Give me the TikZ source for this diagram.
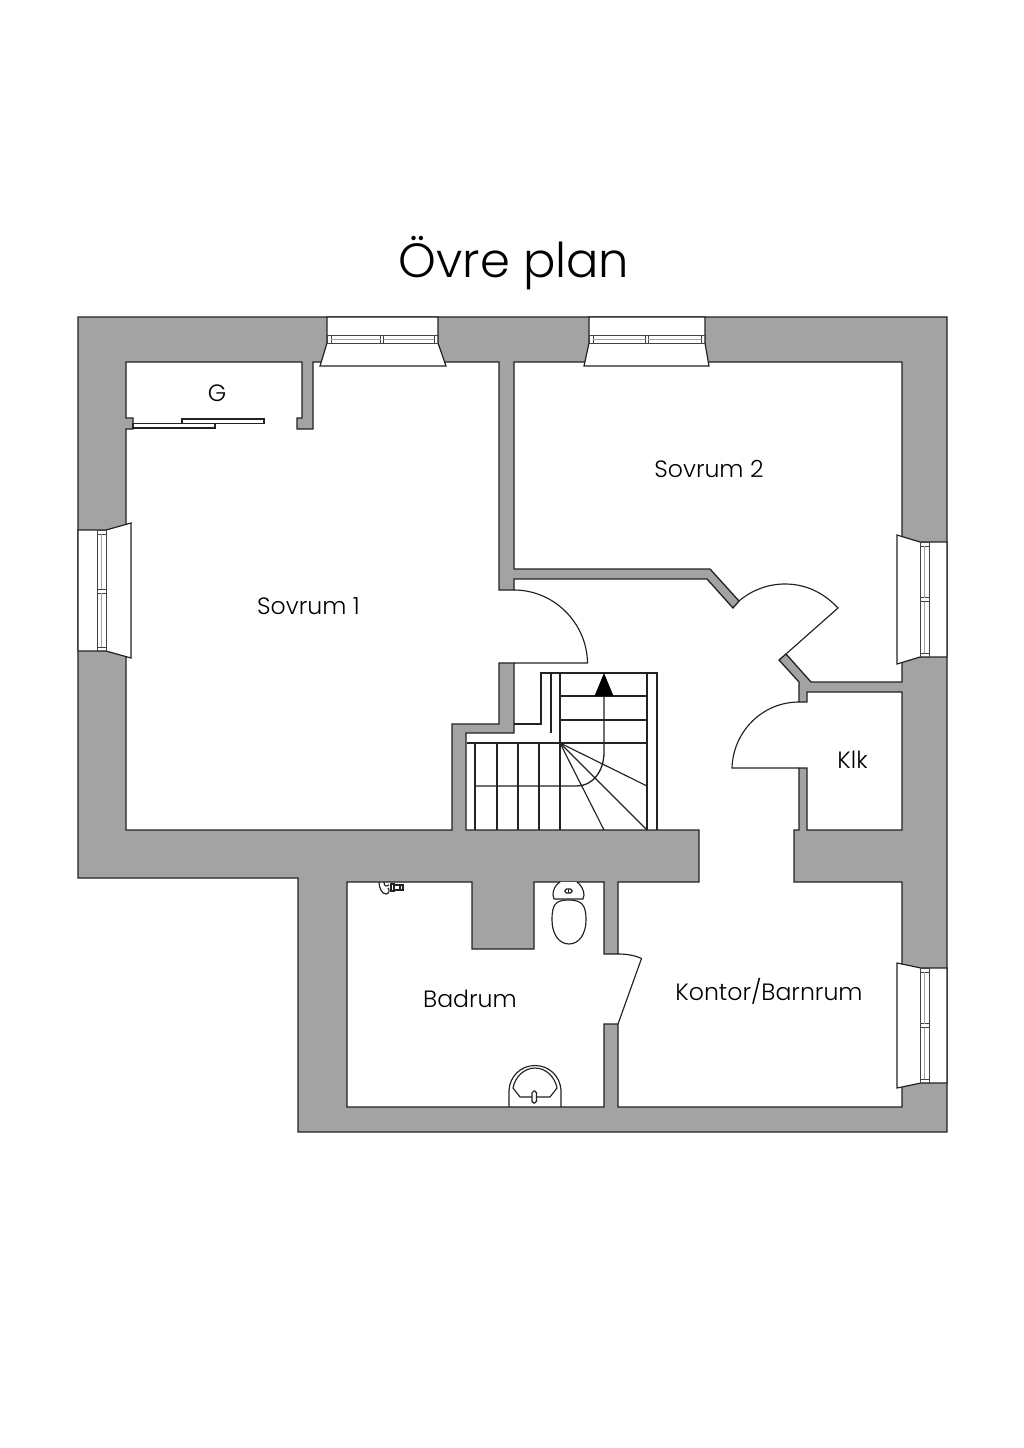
\documentclass[tikz,border=0pt]{standalone}
\usepackage{fontspec}
\setmainfont{Poppins}[UprightFont=* Light]
\definecolor{wallgray}{HTML}{A3A3A3}
\definecolor{planline}{HTML}{222222}
\tikzset{
  wall/.style={draw=planline,fill=wallgray,line width=1.3pt,even odd rule},
  planpart/.style={draw=planline,fill=white,line width=1.2pt},
  thin part/.style={draw=planline,line width=1.15pt},
  winframe/.style={draw=planline!85,line width=0.75pt},
  roomlabel/.style={text=black,font=\fontsize{23.6}{24}\selectfont,inner sep=0pt},
}
\begin{document}
\begin{tikzpicture}[x=1pt,y=-1pt]
  \useasboundingbox (0,0) rectangle (1024,1448);
  \fill[white] (0,0) rectangle (1024,1448);

  % Walls, with all rooms as one hole
  \draw[wall] (78,317) -- (947,317) -- (947,1132) -- (298,1132) -- (298,878) -- (78,878) -- cycle
    (126,362) -- (302,362) -- (302,418) -- (297,418) -- (297,429) -- (313,429) -- (313,362)
    -- (499,362) -- (499,590) -- (514,590) -- (514,579) -- (707,579) -- (733,608) -- (739,601)
    -- (710,569) -- (514,569) -- (514,362) -- (902,362) -- (902,682) -- (811,682) -- (786,654)
    -- (779,660) -- (799,682) -- (799,702) -- (807,702) -- (807,692) -- (902,692) -- (902,830)
    -- (807,830) -- (807,768) -- (799,768) -- (799,830) -- (794,830) -- (794,882) -- (902,882)
    -- (902,1107) -- (618,1107) -- (618,1024) -- (604,1024) -- (604,1107) -- (347,1107)
    -- (347,882) -- (472,882) -- (472,949) -- (534,949) -- (534,882) -- (604,882) -- (604,954)
    -- (618,954) -- (618,882) -- (699,882) -- (699,830) -- (466,830) -- (466,733) -- (514,733)
    -- (514,663) -- (499,663) -- (499,724) -- (452,724) -- (452,830) -- (126,830) -- (126,429)
    -- (133,429) -- (133,418) -- (126,418) -- cycle;

  % Windows in the top wall
  \draw[planpart] (327,317) -- (438,317) -- (438,343) -- (446,366) -- (320,366) -- (327,343) -- cycle;
  \draw[planpart] (589,317) -- (705,317) -- (705,343) -- (709,366) -- (584,366) -- (589,343) -- cycle;
  \foreach \xa/\xb in {327/438,589/705} {
    \draw[winframe] (\xa,335) rectangle (\xb,343);
    \draw[winframe] (\xa+4,335) -- (\xa+4,343) (\xb-4,335) -- (\xb-4,343);
    \draw[winframe] ({(\xa+\xb)/2-2},335) -- ({(\xa+\xb)/2-2},343) ({(\xa+\xb)/2+1},335) -- ({(\xa+\xb)/2+1},343);
    \draw[draw=wallgray,line width=0.9pt] (\xa+4,339) -- ({(\xa+\xb)/2-2},339) ({(\xa+\xb)/2+1},339) -- (\xb-4,339);
  }

  % Window in the left wall
  \draw[planpart] (78,530) -- (106,530) -- (131,523) -- (131,658) -- (106,651) -- (78,651) -- cycle;
  \draw[winframe] (97,530) rectangle (106,651);
  \draw[winframe] (97,534) -- (106,534) (97,647) -- (106,647) (97,589) -- (106,589) (97,593) -- (106,593);
  \draw[draw=wallgray,line width=0.9pt] (101.5,534) -- (101.5,589) (101.5,593) -- (101.5,647);

  % Windows in the right wall
  \draw[planpart] (947,542) -- (920,542) -- (897,535) -- (897,664) -- (920,657) -- (947,657) -- cycle;
  \draw[planpart] (947,968) -- (921,968) -- (897,963) -- (897,1088) -- (921,1083) -- (947,1083) -- cycle;
  \foreach \ya/\yb in {542/657,968/1083} {
    \draw[winframe] (920.5,\ya) rectangle (929,\yb);
    \draw[winframe] (920.5,\ya+4) -- (929,\ya+4) (920.5,\yb-4) -- (929,\yb-4);
    \draw[winframe] (920.5,{(\ya+\yb)/2-2}) -- (929,{(\ya+\yb)/2-2}) (920.5,{(\ya+\yb)/2+2}) -- (929,{(\ya+\yb)/2+2});
    \draw[draw=wallgray,line width=0.9pt] (924.7,\ya+4) -- (924.7,{(\ya+\yb)/2-2}) (924.7,{(\ya+\yb)/2+2}) -- (924.7,\yb-4);
  }

  % Sliding doors of the wardrobe
  \draw[planpart] (182,419) rectangle (264,423.5);
  \draw[planpart] (133,423.5) rectangle (215,428);

  % Doors
  \draw[thin part] (739,601) .. controls (752,590) and (768,584) .. (785,584) .. controls (805,584) and (823,592) .. (838,608) -- (786,654);
  \draw[thin part] (514,590) .. controls (554,590) and (587,623) .. (587.5,663) -- (514,663);
  \draw[thin part] (799,702) .. controls (762,702) and (733,732) .. (732,768) -- (799,768);
  \draw[thin part] (618,954) .. controls (626,954) and (634,955) .. (641.5,958.5) -- (618,1024);

  % Stairs
  \draw[thin part] (514,724) -- (541,724) -- (541,673) -- (657,673) -- (657,830);
  \draw[thin part] (551,673) -- (551,733);
  \draw[thin part] (467,743) -- (560,743);
  \draw[thin part] (560,673) -- (560,830);
  \draw[thin part] (647,673) -- (647,830);
  \foreach \ytread in {696,720,743} {
    \draw[thin part] (560,\ytread) -- (647,\ytread);
  }
  \foreach \xtread in {475,497,518,539} {
    \draw[thin part] (\xtread,743) -- (\xtread,830);
  }
  \draw[thin part] (560,743) -- (647,786);
  \draw[thin part] (560,743) -- (647,830);
  \draw[thin part] (560,743) -- (604,830);
  \fill[planline] (560,743) circle (1.5);

  % Walk line with its arrow
  \draw[thin part,line width=1.3pt] (604,696) -- (604,752) .. controls (604,772) and (592,786) .. (577,786) -- (475,786);
  \fill[black] (604,673) -- (613.5,696) -- (594.5,696) -- cycle;

  % Toilet
  \draw[thin part,fill=white] (568.5,900) .. controls (555,900) and (552,905) .. (552,920)
    .. controls (552,934) and (559,944) .. (569,944) .. controls (579,944) and (586,934) .. (586,920)
    .. controls (586,905) and (582,900) .. (568.5,900) -- cycle;
  \draw[thin part,fill=white] (560,882) .. controls (555,885) and (553,890) .. (553,895) -- (554,899)
    -- (583,899) -- (584,895) .. controls (584,890) and (581,885) .. (577,882);
  \draw[thin part,rounded corners=1.5pt] (565,889) rectangle (572,893);
  \draw[thin part] (568.5,889) -- (568.5,893);

  % Washbasin
  \draw[thin part] (509,1107) -- (509,1090) .. controls (510,1076) and (521,1065.5) .. (535,1065.5)
    .. controls (549,1065.5) and (560,1076) .. (561,1090) -- (561,1107);
  \draw[thin part] (513,1088) .. controls (515,1077) and (524,1068) .. (535,1068)
    .. controls (546,1068) and (555,1077) .. (557,1088) -- (550,1097) -- (520,1097) -- cycle;
  \draw[thin part,fill=white,rounded corners=1.8pt] (532,1091) rectangle (536.5,1103);

  % Shower tap
  \draw[thin part] (379,882) .. controls (379,888) and (382,894) .. (386,894) .. controls (389,894) and (390,890) .. (388,888);
  \draw[thin part] (384,882) .. controls (384,886) and (386,887) .. (389,885);
  \draw[thin part] (391,884) rectangle (394,891);
  \draw[thin part] (394,885) rectangle (403,890);
  \draw[thin part] (400,885) -- (400,890);

  % Labels
  \node[text=black,font=\fontsize{48}{48}\selectfont,inner sep=0pt,anchor=base] (title) at (514,277) {Övre plan};
  \node[roomlabel] (wardrobe) at (217,393) {G};
  \node[roomlabel] (room one) at (308.5,606) {Sovrum 1};
  \node[roomlabel] (room two) at (709,469) {Sovrum 2};
  \node[roomlabel] (closet) at (852.5,760) {Klk};
  \node[roomlabel] (bath) at (470,999) {Badrum};
  \node[roomlabel] (office) at (769,991) {Kontor/Barnrum};
\end{tikzpicture}
\end{document}
